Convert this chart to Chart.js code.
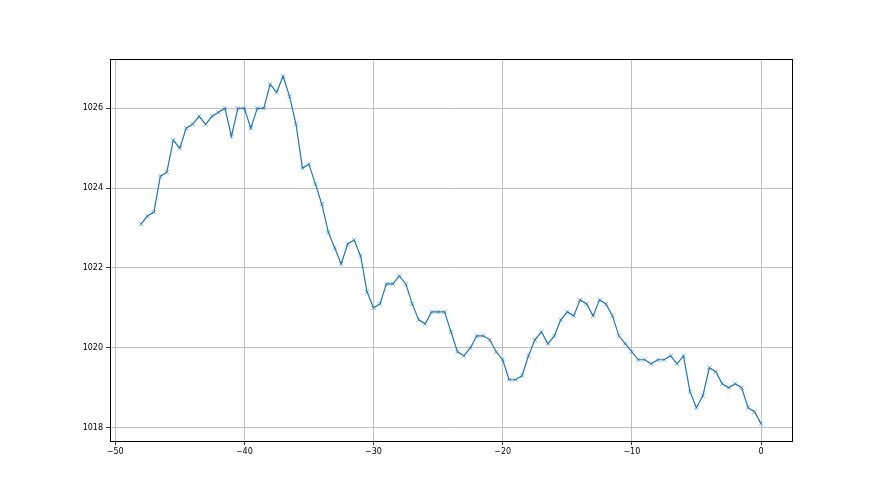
<!DOCTYPE html>
<html>
<head>
<meta charset="utf-8">
<script src="https://cdn.jsdelivr.net/npm/chart.js@4/dist/chart.umd.min.js"></script>
<style>
    html, body { margin: 0; padding: 0; background: #fff; }
    #wrap { width: 880px; height: 495px; }
</style>
</head>
<body>
<div id="wrap"><canvas id="chart" width="880" height="495"></canvas></div>
<script>
// hours relative to now
const hours = [
    -48, -47.5, -47, -46.5, -46, -45.5, -45, -44.5, -44, -43.5,
    -43, -42.5, -42, -41.5, -41, -40.5, -40, -39.5, -39, -38.5,
    -38, -37.5, -37, -36.5, -36, -35.5, -35, -34.5, -34, -33.5,
    -33, -32.5, -32, -31.5, -31, -30.5, -30, -29.5, -29, -28.5,
    -28, -27.5, -27, -26.5, -26, -25.5, -25, -24.5, -24, -23.5,
    -23, -22.5, -22, -21.5, -21, -20.5, -20, -19.5, -19, -18.5,
    -18, -17.5, -17, -16.5, -16, -15.5, -15, -14.5, -14, -13.5,
    -13, -12.5, -12, -11.5, -11, -10.5, -10, -9.5, -9, -8.5,
    -8, -7.5, -7, -6.5, -6, -5.5, -5, -4.5, -4, -3.5,
    -3, -2.5, -2, -1.5, -1, -0.5, 0
];

// pressure readings
const pressure = [
    1023.1, 1023.3, 1023.4, 1024.3, 1024.4, 1025.2, 1025.0, 1025.5, 1025.6, 1025.8,
    1025.6, 1025.8, 1025.9, 1026.0, 1025.3, 1026.0, 1026.0, 1025.5, 1026.0, 1026.0,
    1026.6, 1026.4, 1026.8, 1026.3, 1025.6, 1024.5, 1024.6, 1024.1, 1023.6, 1022.9,
    1022.5, 1022.1, 1022.6, 1022.7, 1022.3, 1021.4, 1021.0, 1021.1, 1021.6, 1021.6,
    1021.8, 1021.6, 1021.1, 1020.7, 1020.6, 1020.9, 1020.9, 1020.9, 1020.4, 1019.9,
    1019.8, 1020.0, 1020.3, 1020.3, 1020.2, 1019.9, 1019.7, 1019.2, 1019.2, 1019.3,
    1019.8, 1020.2, 1020.4, 1020.1, 1020.3, 1020.7, 1020.9, 1020.8, 1021.2, 1021.1,
    1020.8, 1021.2, 1021.1, 1020.8, 1020.3, 1020.1, 1019.9, 1019.7, 1019.7, 1019.6,
    1019.7, 1019.7, 1019.8, 1019.6, 1019.8, 1018.9, 1018.5, 1018.8, 1019.5, 1019.4,
    1019.1, 1019.0, 1019.1, 1019.0, 1018.5, 1018.4, 1018.1
];

const xTicks = [-50, -40, -30, -20, -10, 0];
const yTicks = [1018, 1020, 1022, 1024, 1026];

const blue = '#1f77b4';
const gridColor = '#b0b0b0';

// full frame around the plot (matplotlib spines)
const framePlugin = {
    id: 'frame',
    afterDraw(chart) {
        const { ctx, chartArea: a } = chart;
        ctx.save();
        ctx.strokeStyle = '#000';
        ctx.lineWidth = 1;
        ctx.strokeRect(Math.round(a.left) + 0.5, Math.round(a.top) + 0.5,
            Math.round(a.right - a.left), Math.round(a.bottom - a.top));
        ctx.restore();
    }
};

const bgPlugin = {
    id: 'bg',
    beforeDraw(chart) {
        const ctx = chart.ctx;
        ctx.save();
        ctx.fillStyle = '#fff';
        ctx.fillRect(0, 0, chart.width, chart.height);
        ctx.restore();
    }
};

const tickFont = { family: 'DejaVu Sans', size: 8 };

new Chart(document.getElementById('chart'), {
    type: 'line',
    data: {
        datasets: [{
            data: hours.map((h, i) => ({ x: h, y: pressure[i] })),
            borderColor: blue,
            borderWidth: 1.2,
            backgroundColor: blue,
            pointStyle: 'crossRot',
            pointRadius: 3,
            pointBorderColor: 'rgba(31,119,180,0.75)',
            pointBorderWidth: 0.8,
            tension: 0,
            fill: false
        }]
    },
    options: {
        responsive: false,
        animation: false,
        layout: { padding: { left: 0, top: 59, right: 88, bottom: 0 } },
        plugins: {
            legend: { display: false },
            tooltip: { enabled: false }
        },
        scales: {
            x: {
                type: 'linear',
                min: -50.4,
                max: 2.4,
                afterBuildTicks: (scale) => { scale.ticks = xTicks.map(v => ({ value: v })); },
                afterFit: (scale) => { scale.height = 54; },
                ticks: { color: '#000', font: tickFont, padding: 2, maxRotation: 0,
                    callback: (v) => String(v).replace('-', '\u2212') },
                grid: { color: gridColor, lineWidth: 0.8, tickLength: 4, tickColor: '#000' },
                border: { display: true, color: '#000', width: 1 }
            },
            y: {
                type: 'linear',
                min: 1017.665,
                max: 1027.235,
                afterBuildTicks: (scale) => { scale.ticks = yTicks.map(v => ({ value: v })); },
                afterFit: (scale) => { scale.width = 110; },
                ticks: { color: '#000', font: tickFont, padding: 3, callback: (v) => String(v) },
                grid: { color: gridColor, lineWidth: 0.8, tickLength: 4, tickColor: '#000' },
                border: { display: true, color: '#000', width: 1 }
            }
        }
    },
    plugins: [bgPlugin, framePlugin]
});
</script>
</body>
</html>
